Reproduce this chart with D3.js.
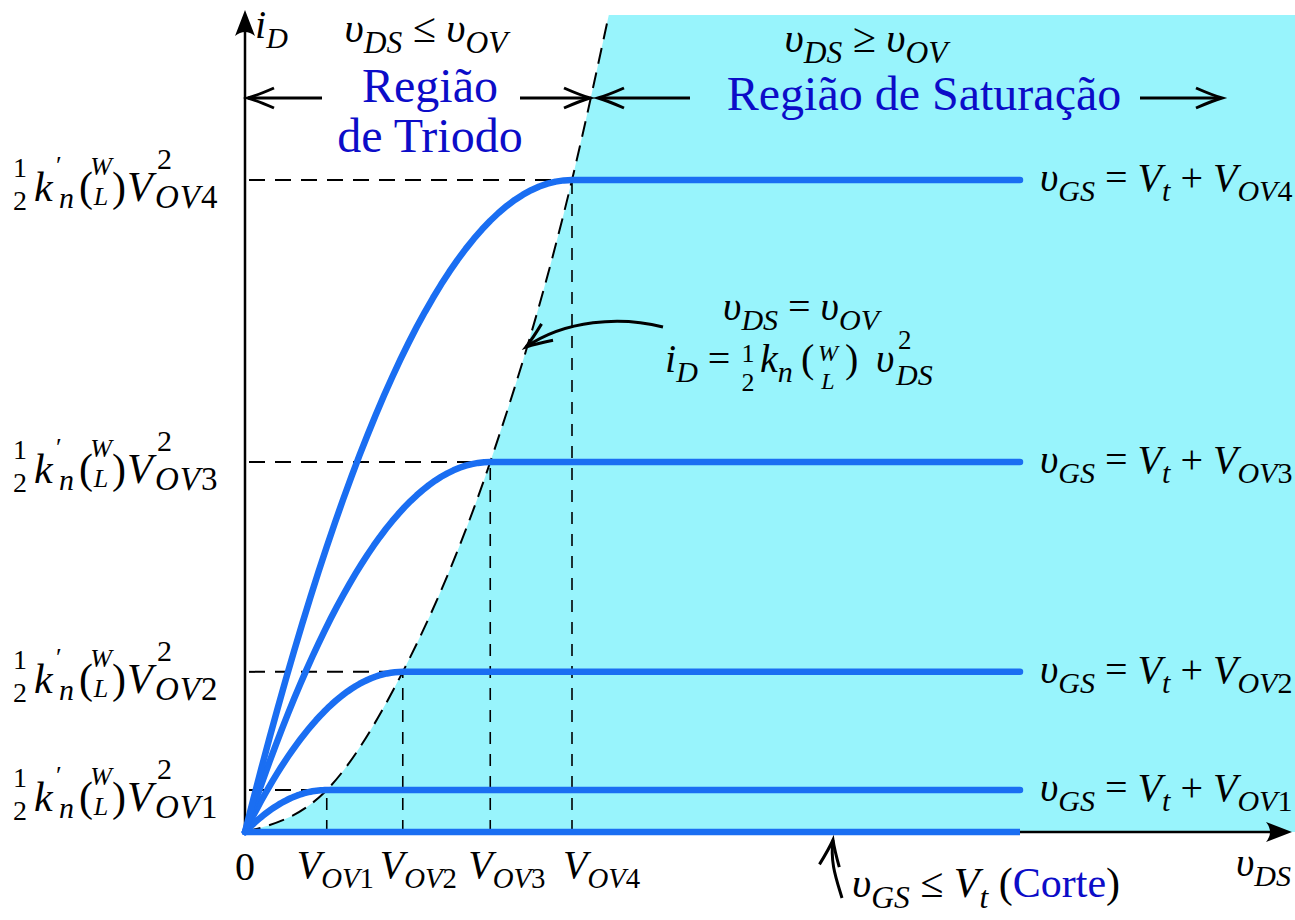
<!DOCTYPE html>
<html>
<head>
<meta charset="utf-8">
<title>Curvas iD x vDS</title>
<script src="https://cdnjs.cloudflare.com/ajax/libs/d3/7.8.5/d3.min.js"></script>
<style>
  body { margin: 0; background: #fff; }
  svg text { font-family: "Liberation Serif", "Times New Roman", serif; }
</style>
</head>
<body>
<svg id="chart"></svg>
<script>
const width = 1295, height = 920;

// valores (unidades arbitrarias, k'n(W/L)/2 = 1)
const curveNames = ["OV1", "OV2", "OV3", "OV4"];
const vOV = [1.0, 1.93, 3.0, 4.0];
const iSat = [1.03, 3.93, 9.08, 16.0];
const vdsEnd = 9.48;              // fim das curvas
const parabolaTop = [4.45, 20.05]; // ponto onde a parabola sai pelo topo

const cyan = "#98f4fc", blueLine = "#1a6ef2", blueText = "#0c0cc8";

const svg = d3.select("#chart").attr("width", width).attr("height", height);
const g = svg.append("g");

const x = d3.scaleLinear().domain([0, 4]).range([245, 572]);
const y = d3.scaleLinear().domain([0, 16]).range([832, 180]);

// parabola vDS = vOV
const parPts = [[0, 0]].concat(vOV.map((v, i) => [v, iSat[i]]), [parabolaTop]);
const parLine = d3.line().x(d => x(d[0])).y(d => y(d[1])).curve(d3.curveMonotoneX);

// regiao de saturacao
g.append("path")
  .attr("d", parLine(parPts) + `L${width},${y(parabolaTop[1])}L${width},${y(0)}Z`)
  .attr("fill", cyan);

g.append("path")
  .attr("d", parLine(parPts))
  .attr("fill", "none").attr("stroke", "#000").attr("stroke-width", 2)
  .attr("stroke-dasharray", "16,9");

// tracejados horizontais e verticais
vOV.forEach((v, i) => {
  g.append("line")
    .attr("x1", x(0) + 4).attr("x2", x(v))
    .attr("y1", y(iSat[i])).attr("y2", y(iSat[i]))
    .attr("stroke", "#000").attr("stroke-width", 2).attr("stroke-dasharray", "16,10");
  g.append("line")
    .attr("x1", x(v)).attr("x2", x(v))
    .attr("y1", y(0)).attr("y2", y(iSat[i]))
    .attr("stroke", "#000").attr("stroke-width", 1.6).attr("stroke-dasharray", "12,10");
});

// eixos
g.append("line").attr("x1", x(0)).attr("x2", x(0)).attr("y1", y(0) + 2).attr("y2", 30)
  .attr("stroke", "#000").attr("stroke-width", 2.5);
g.append("line").attr("x1", x(0) - 1).attr("x2", 1275).attr("y1", y(0)).attr("y2", y(0))
  .attr("stroke", "#000").attr("stroke-width", 2.5);

function solidHead(px, py, ang) {
  g.append("path").attr("d", "M0,0 L-26,-10 Q-18,0 -26,10 Z")
    .attr("transform", `translate(${px},${py}) rotate(${ang})`)
    .attr("fill", "#000");
}
function openHead(px, py, ang) {
  g.append("path").attr("d", "M-26,-10 Q-10,-3 0,0 Q-10,3 -26,10")
    .attr("transform", `translate(${px},${py}) rotate(${ang})`)
    .attr("fill", "none").attr("stroke", "#000").attr("stroke-width", 3);
}
solidHead(x(0), 10, -90);
solidHead(1292, y(0), 0);

// curvas iD x vDS
const line = d3.line().x(d => x(d[0])).y(d => y(d[1]));
vOV.forEach((v, i) => {
  const pts = d3.range(0, 41).map(k => {
    const t = k / 40;
    return [t * v, iSat[i] * (2 * t - t * t)];
  });
  pts.push([vdsEnd, iSat[i]]);
  g.append("path").attr("d", line(pts))
    .attr("fill", "none").attr("stroke", blueLine).attr("stroke-width", 6.5)
    .attr("stroke-linejoin", "round").attr("stroke-linecap", "round");
});
g.append("path").attr("d", line([[0, 0], [vdsEnd, 0]]))
  .attr("fill", "none").attr("stroke", blueLine).attr("stroke-width", 6.5);

// setas das regioes
function hline(x1, x2, yy) {
  g.append("line").attr("x1", x1).attr("x2", x2).attr("y1", yy).attr("y2", yy)
    .attr("stroke", "#000").attr("stroke-width", 3);
}
hline(248, 322, 98); openHead(248, 98, 180);
hline(520, 589, 98); openHead(590, 98, 0);
hline(599, 690, 98); openHead(598, 98, 180);
hline(1140, 1221, 98); openHead(1222, 98, 0);

g.append("path").attr("d", "M663,327 C620,316 565,320 526,347")
  .attr("fill", "none").attr("stroke", "#000").attr("stroke-width", 3);
openHead(526, 347, 145);
g.append("path").attr("d", "M842,898 C836,878 830,862 833,840")
  .attr("fill", "none").attr("stroke", "#000").attr("stroke-width", 3);
openHead(833, 840, -82);

// texto com indices: f = i (italico), s (indice), p (expoente), b (azul)
function rich(px, py, parts, size, anchor, ratio) {
  ratio = ratio || 0.75;
  const t = g.append("text").attr("x", px).attr("y", py)
    .attr("font-size", size).attr("text-anchor", anchor || "start");
  let shift = 0;
  parts.forEach(([s, f, dx]) => {
    f = f || "";
    const sub = f.includes("s"), sup = f.includes("p");
    const target = sub ? size * 0.25 : sup ? -size * 0.42 : 0;
    const ts = t.append("tspan").attr("dy", target - shift).text(s)
      .attr("font-size", sub || sup ? size * ratio : size)
      .attr("font-style", f.includes("i") ? "italic" : "normal")
      .attr("fill", f.includes("b") ? blueText : "#000")
      .style("white-space", "pre");
    if (dx) ts.attr("dx", dx);
    shift = target;
  });
  return t;
}
function piece(px, py, s, size, italic, anchor) {
  return g.append("text").attr("x", px).attr("y", py).attr("font-size", size)
    .attr("font-style", italic ? "italic" : "normal")
    .attr("text-anchor", anchor || "start").text(s);
}

// rotulos da esquerda
curveNames.forEach((n, i) => {
  const L = y(iSat[i]);
  piece(20, L - 3, "1", 28, false, "middle");
  piece(20, L + 30, "2", 28, false, "middle");
  piece(34, L + 21, "k", 42, true);
  piece(56, L - 6, "′", 26, false);
  piece(59, L + 28, "n", 30, true);
  piece(79, L + 21, "(", 42, false);
  piece(101, L - 5, "W", 26, true, "middle");
  piece(101, L + 25, "L", 26, true, "middle");
  piece(112, L + 21, ")", 42, false);
  piece(127, L + 21, "V", 42, true);
  piece(157, L - 11, "2", 30, false);
  rich(155, L + 28, [["OV", "i"], [n.slice(2)]], 33).attr("letter-spacing", 1);
});

// rotulos da direita
curveNames.forEach((n, i) => {
  const L = y(iSat[i]);
  rich(1040, L + 11, [["υ", "i"], ["GS", "is"], [" = "], ["V", "i"], ["t", "is"],
    [" + "], ["V", "i"], ["OV", "is"], [n.slice(2), "s"]], 40);
});

// eixo x
piece(x(0), 880, "0", 40, false, "middle");
const vLabelDx = [-30, -23, -22, -9];
curveNames.forEach((n, i) => {
  rich(x(vOV[i]) + vLabelDx[i], 878, [["V", "i"], ["OV", "is"], [n.slice(2), "s"]], 40, "start", 0.72);
});
rich(1236, 876, [["υ", "i"], ["DS", "is"]], 40);
rich(255, 38, [["i", "i"], ["D", "is"]], 40);

// titulos das regioes
rich(426, 42, [["υ", "i"], ["DS", "is"], [" ≤ "], ["υ", "i"], ["OV", "is"]], 42, "middle");
rich(430, 102, [["Região", "b"]], 48, "middle");
rich(430, 152, [["de Triodo", "b"]], 48, "middle");
rich(866, 52, [["υ", "i"], ["DS", "is"], [" ≥ "], ["υ", "i"], ["OV", "is"]], 42, "middle");
rich(924, 110, [["Região de Saturação", "b"]], 48, "middle");

// anotacao da parabola
rich(801, 320, [["υ", "i"], ["DS", "is"], [" = "], ["υ", "i"], ["OV", "is"]], 40, "middle");
rich(665, 372, [["i", "i"], ["D", "is"], [" ="]], 40);
piece(748, 362, "1", 26, false, "middle");
piece(748, 391, "2", 26, false, "middle");
rich(760, 372, [["k", "i"], ["n", "is"]], 40);
piece(801, 372, "(", 40, false);
piece(828, 361, "W", 24, true, "middle");
piece(828, 389, "L", 24, true, "middle");
piece(845, 372, ")", 40, false);
piece(876, 372, "υ", 40, true);
piece(898, 349, "2", 27, false);
piece(896, 385, "DS", 30, true);

// corte
rich(852, 897, [["υ", "i"], ["GS", "is"], [" ≤ "], ["V", "i"], ["t", "is"], [" ("],
  ["Corte", "b"], [")"]], 42);
</script>
</body>
</html>
